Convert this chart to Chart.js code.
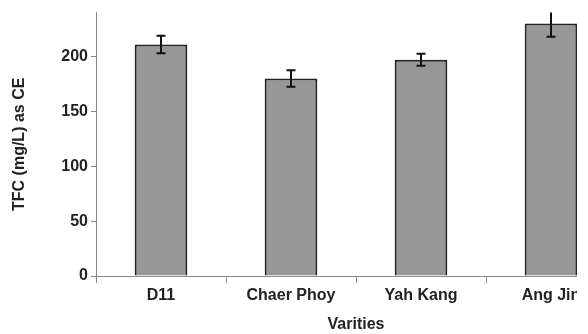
<!DOCTYPE html>
<html>
<head>
<meta charset="utf-8">
<script src="https://cdn.jsdelivr.net/npm/chart.js@4"></script>
<style>
  html, body { margin: 0; padding: 0; background: #fff; overflow: hidden; }
  #clip { width: 577px; height: 334px; overflow: hidden; }
  #wrap { width: 625px; height: 334px; }
</style>
</head>
<body>
<div id="clip"><div id="wrap"><canvas id="chart"></canvas></div></div>
<script>
// data
const varieties = ["D11", "Chaer Phoy", "Yah Kang", "Ang Jin"];
const tfcMean = [211, 180, 197, 230];
const tfcErr = [8, 7.5, 5.5, 12];
const yTicks = [0, 50, 100, 150, 200];

const font = { family: "'Liberation Sans', Arial, sans-serif", size: 16, weight: "bold" };

// error bars drawn through the y scale
const errorBars = {
    id: "errorBars",
    afterDatasetsDraw(chart) {
        const ctx = chart.ctx;
        const y = chart.scales.y;
        const meta = chart.getDatasetMeta(0);
        const area = chart.chartArea;
        ctx.save();
        ctx.beginPath();
        ctx.rect(area.left, area.top, area.right - area.left, area.bottom - area.top);
        ctx.clip();
        ctx.strokeStyle = "#111";
        ctx.lineWidth = 2;
        meta.data.forEach((bar, i) => {
            const x = bar.x;
            const hi = y.getPixelForValue(tfcMean[i] + tfcErr[i]);
            const lo = y.getPixelForValue(tfcMean[i] - tfcErr[i]);
            ctx.beginPath();
            ctx.moveTo(x, hi); ctx.lineTo(x, lo);
            ctx.moveTo(x - 4.5, hi); ctx.lineTo(x + 4.5, hi);
            ctx.moveTo(x - 4.5, lo); ctx.lineTo(x + 4.5, lo);
            ctx.stroke();
        });
        ctx.restore();
    }
};

new Chart(document.getElementById("chart"), {
    type: "bar",
    data: {
        labels: varieties,
        datasets: [{
            data: tfcMean,
            backgroundColor: "#979797",
            borderColor: "#222",
            borderWidth: 2,
            categoryPercentage: 1,
            barPercentage: 0.405
        }]
    },
    options: {
        responsive: true,
        maintainAspectRatio: false,
        animation: false,
        layout: { padding: { top: 11, right: 9, left: 0, bottom: 0 } },
        plugins: { legend: { display: false }, tooltip: { enabled: false } },
        scales: {
            x: {
                grid: { offset: true, drawOnChartArea: false, tickLength: 7, color: "#888" },
                border: { color: "#888", width: 1 },
                ticks: { font: font, color: "#222", padding: 3 },
                title: { display: true, text: "Varities", font: font, color: "#222", padding: { top: 2, bottom: 0 } },
                afterFit(scale) { scale.height = 58; }
            },
            y: {
                min: 0,
                max: 240,
                afterBuildTicks(scale) { scale.ticks = yTicks.map(v => ({ value: v })); },
                grid: { drawOnChartArea: false, tickLength: 5, color: "#888" },
                border: { color: "#888", width: 1 },
                ticks: { font: font, color: "#222", padding: 3 },
                title: { display: true, text: "TFC (mg/L) as CE", font: font, color: "#222", padding: { top: 10, bottom: 0 } },
                afterFit(scale) { scale.width = 96; }
            }
        }
    },
    plugins: [errorBars]
});
</script>
</body>
</html>
